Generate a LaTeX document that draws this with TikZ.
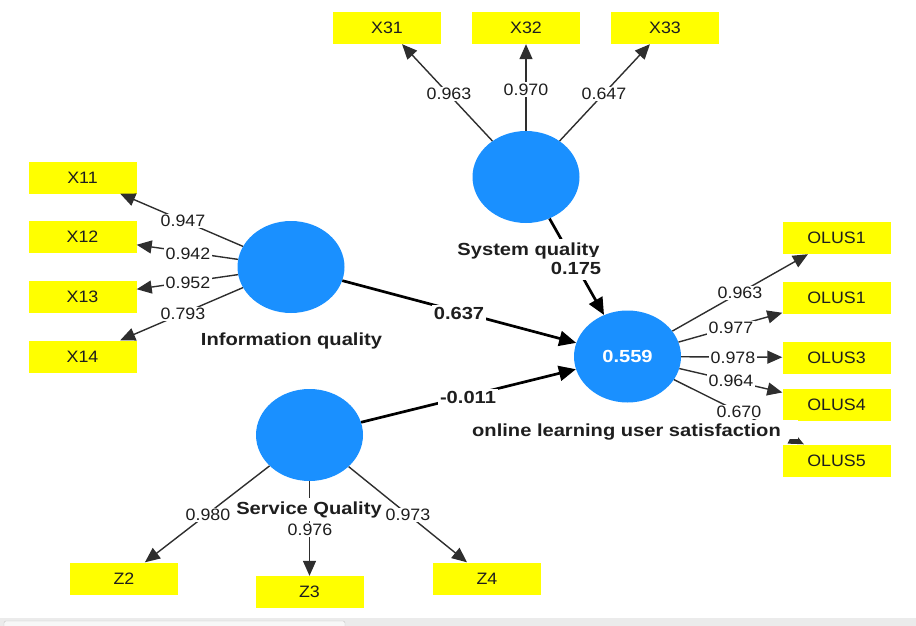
\documentclass[tikz,border=0pt]{standalone}
\usepackage{fontspec}
\setmainfont{Liberation Sans}[FakeStretch=1.08]
\newfontfamily\widebf{Liberation Sans}[FakeStretch=1.15]
\usetikzlibrary{shapes.geometric,arrows.meta}
\definecolor{lvblu}{HTML}{1A90FF}
\definecolor{indyel}{HTML}{FFFF00}
\definecolor{lngr}{HTML}{2E2E2E}
\definecolor{txt}{HTML}{1E1E1E}
\newcommand\ldfont{\fontsize{16.5pt}{18pt}\selectfont}
\newcommand\capfont{\widebf\bfseries\fontsize{17.5pt}{19pt}\selectfont}
\tikzset{
  ind/.style={fill=indyel, minimum width=108pt, minimum height=32pt, inner sep=0pt, font=\ldfont, text=txt},
  lv/.style={ellipse, fill=lvblu, minimum width=107pt, minimum height=92pt, inner sep=0pt},
  loadarr/.style={draw=lngr, line width=1.4pt, -{Triangle[length=15pt,width=13pt]}},
  patharr/.style={draw=black, line width=2.7pt, -{Triangle[length=17pt,width=15pt]}},
  ldlbl/.style={fill=white, inner sep=1.5pt, font=\ldfont, text=txt},
  coeflbl/.style={fill=white, inner sep=2pt, font=\capfont, text=txt},
  caplbl/.style={fill=white, inner sep=3pt, font=\capfont, text=txt}
}
\begin{document}
\begin{tikzpicture}[x=1pt,y=-1pt]
        \useasboundingbox (0,0) rectangle (916,626);
        % scroll bar at the bottom
        \fill[gray!16] (0,618) rectangle (916,626);
        \draw[gray!45, fill=gray!6, rounded corners=2pt] (4,621) rectangle (345,630);
        % indicators
        \node[ind] (x31) at (387,28) {X31};
        \node[ind] (x32) at (526,28) {X32};
        \node[ind] (x33) at (665,28) {X33};
        \node[ind] (x11) at (82.5,177.5) {X11};
        \node[ind] (x12) at (82.5,237) {X12};
        \node[ind] (x13) at (82.5,297) {X13};
        \node[ind] (x14) at (82.5,356.5) {X14};
        \node[ind] (olusa) at (836.5,238) {OLUS1};
        \node[ind] (olusb) at (836.5,297.5) {OLUS1};
        \node[ind] (olus3) at (836.5,357.5) {OLUS3};
        \node[ind] (olus4) at (836.5,405) {OLUS4};
        \node[ind] (olus5) at (836.5,460.5) {OLUS5};
        \node[ind] (z2) at (124,578.5) {Z2};
        \node[ind] (z3) at (309.5,592) {Z3};
        \node[ind] (z4) at (487,578.5) {Z4};
        % constructs
        \node[lv] (sys) at (526,177) {};
        \node[lv] (info) at (291,267) {};
        \node[lv] (serv) at (309.5,435) {};
        \node[lv] (olus) at (627.5,356.5) {\capfont\textcolor{white}{0.559}};
        % outer loadings
        \foreach \b in {x31,x32,x33} \draw[loadarr] (sys) -- (\b);
        \foreach \b in {x11,x12,x13,x14} \draw[loadarr] (info) -- (\b);
        \foreach \b in {olusa,olusb,olus3,olus4,olus5} \draw[loadarr] (olus) -- (\b);
        \foreach \b in {z2,z3,z4} \draw[loadarr] (serv) -- (\b);
        % paths
        \draw[patharr] (sys) -- (olus);
        \draw[patharr] (info) -- (olus);
        \draw[patharr] (serv) -- (olus);
        % construct names
        \node[caplbl, anchor=base] (sysname) at (528.5,255) {System quality};
        \node[caplbl, anchor=base] (infoname) at (291.5,345) {Information quality};
        \node[caplbl, anchor=base] (servname) at (309,514) {Service Quality};
        \node[caplbl, anchor=base, inner xsep=17pt, inner ysep=3pt, text height=13pt, text depth=0pt] (olusname) at (626.5,436) {online learning user satisfaction};
        % loading values
        \foreach \v/\x/\y [count=\i] in {0.963/449/94, 0.970/526/89.5, 0.647/604/94,
            0.947/183/221, 0.942/188/254, 0.952/188/283, 0.793/183/314,
            0.963/740/293, 0.977/731/328, 0.978/733/358, 0.964/731/381, 0.670/739/412,
            0.980/208/515, 0.976/310/530, 0.973/408/515}
          \node[ldlbl] (ld\i) at (\x,\y) {\v};
        % path coefficients
        \node[coeflbl, inner ysep=5pt] (c1) at (576,268.5) {0.175};
        \node[coeflbl] (c2) at (459,313) {0.637};
        \node[coeflbl] (c3) at (468,397) {-0.011};
    \end{tikzpicture}
\end{document}
